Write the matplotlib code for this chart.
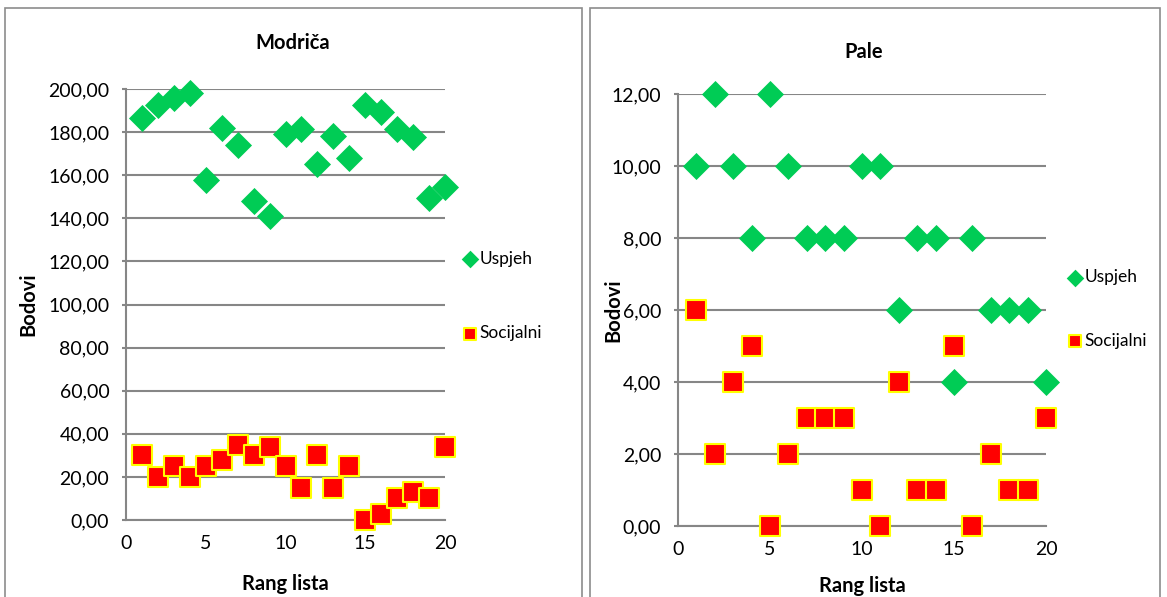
import matplotlib.pyplot as plt
from matplotlib.patches import Rectangle
from matplotlib.ticker import FuncFormatter

plt.rcParams['font.family'] = ['Lato', 'DejaVu Sans']

# rang lista
rang = list(range(1, 21))

# Modriča
modrica_uspjeh = [186.5, 192.5, 196, 198, 158, 182, 174, 148, 141, 179,
                  181.5, 165, 178, 168, 192.5, 189.5, 181.5, 177.5, 149.5, 154.5]
modrica_socijalni = [30, 20, 25, 20, 25, 28, 35, 30, 34, 25,
                     15, 30, 15, 25, 0, 3, 10, 13, 10, 34]

# Pale
pale_uspjeh = [10, 12, 10, 8, 12, 10, 8, 8, 8, 10,
               10, 6, 8, 8, 4, 8, 6, 6, 6, 4]
pale_socijalni = [6, 2, 4, 5, 0, 2, 3, 3, 3, 1,
                  0, 4, 1, 1, 5, 0, 2, 1, 1, 3]

green = '#00CC55'
grid_c = '#868686'

fig = plt.figure(figsize=(11.67, 5.97), dpi=100)

# okviri grafikona
W, H = 1167, 597
for x0, x1 in [(5, 582), (590, 1160)]:
    fig.patches.append(Rectangle((x0 / W, -0.05), (x1 - x0) / W, 1.05 - 8 / H,
                                 transform=fig.transFigure, fill=False,
                                 edgecolor='#8c8c8c', linewidth=1.2))


def crtaj(rect, uspjeh, socijalni, ymax, ystep, naslov, title_xy,
          xlab_y, ylab_x, leg_pos, leg_sp):
    ax = fig.add_axes(rect)
    ax.scatter(rang, uspjeh, marker='D', s=190, color=green, linewidths=0,
               zorder=3, label='Uspjeh', clip_on=False)
    ax.scatter(rang, socijalni, marker='s', s=200, color='red',
               edgecolors='yellow', linewidths=1.5, zorder=3, label='Socijalni',
               clip_on=False)
    ax.set_xlim(0, 20)
    ax.set_ylim(0, ymax)
    ax.set_xticks([0, 5, 10, 15, 20])
    ax.set_yticks([i * ystep for i in range(int(ymax / ystep) + 1)])
    ax.yaxis.set_major_formatter(FuncFormatter(lambda v, p: f'{v:.2f}'.replace('.', ',')))
    ax.grid(axis='y', color=grid_c, linewidth=1.5, zorder=0)
    for s in ['top', 'right']:
        ax.spines[s].set_visible(False)
    for s in ['left', 'bottom']:
        ax.spines[s].set_color(grid_c)
        ax.spines[s].set_linewidth(1.5)
    ax.tick_params(axis='x', length=0, pad=11, labelsize=14)
    ax.tick_params(axis='y', colors=grid_c, labelcolor='black', labelsize=14,
                   length=3, width=1.5, pad=9)
    ax.set_xlabel('Rang lista', fontsize=14.5, fontweight='bold')
    ax.set_ylabel('Bodovi', fontsize=14.5, fontweight='bold')
    ax.xaxis.set_label_coords(0.5, xlab_y)
    ax.yaxis.set_label_coords(ylab_x, 0.5)
    fig.text(title_xy[0] / W, 1 - title_xy[1] / H, naslov, fontsize=14.5,
             fontweight='bold', ha='center', va='center')
    ax.legend(loc='center left', bbox_to_anchor=leg_pos, frameon=False,
              fontsize=12.5, handletextpad=0.15, handlelength=0.8,
              labelspacing=leg_sp, markerscale=0.65, borderaxespad=0)
    return ax


crtaj([126 / W, 1 - 520 / H, (445 - 126) / W, (520 - 89) / H],
      modrica_uspjeh, modrica_socijalni, 200, 20, 'Modriča', (293, 43),
      -0.125, -0.276, (1.034, 0.52), 3.37)
crtaj([678 / W, 1 - 526 / H, (1046 - 678) / W, (526 - 94) / H],
      pale_uspjeh, pale_socijalni, 12, 2, 'Pale', (864, 52),
      -0.116, -0.149, (1.041, 0.502), 2.73)

plt.savefig('out.png', dpi=100)
